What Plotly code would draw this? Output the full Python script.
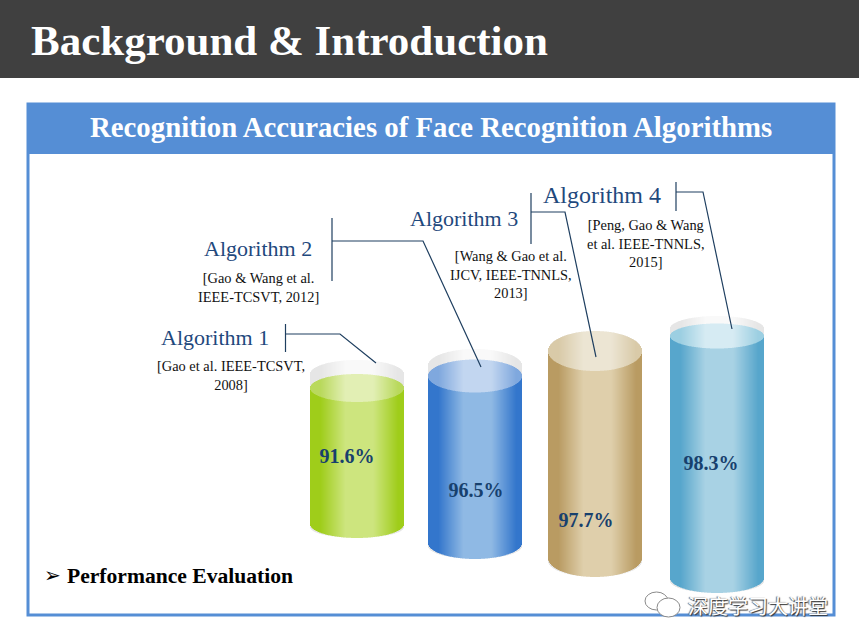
import numpy as np
import plotly.graph_objects as go

W, H = 859, 643

# --- data ---
algorithms = ["Algorithm 1", "Algorithm 2", "Algorithm 3", "Algorithm 4"]
accuracy = [91.6, 96.5, 97.7, 98.3]
citations = [
    "[Gao et al. IEEE-TCSVT,<br>2008]",
    "[Gao &amp; Wang et al.<br>IEEE-TCSVT, 2012]",
    "[Wang &amp; Gao et al.<br>IJCV, IEEE-TNNLS,<br>2013]",
    "[Peng, Gao &amp; Wang<br>et al. IEEE-TNNLS,<br>2015]",
]
# cylinder geometry in chart units
bar_left = [310, 428, 548, 670]
bar_width = [94, 94, 94, 94]
level_center = [388, 376, 351, 336]
level_radius = [14, 16.5, 20, 12.5]
floor_center = [524, 543, 558, 578]
floor_radius = [14, 16, 19, 15]
rim_top = [360, 349, 331, 316]
label_x = [347, 476, 586, 711]
label_y = [458, 492, 522, 465]

# --- styles ---
side_edge = ["#9fcd1a", "#3376cc", "#b99b62", "#57a6cc"]
side_mid = ["#cde57e", "#8fb9e4", "#dfcfab", "#a8d2e4"]
cap_edge = ["#b9d95c", "#7fa8de", "#d9caa8", "#9ccfe2"]
cap_mid = ["#e2efb4", "#c2d6f0", "#ece5d3", "#d6ebf3"]
INK = "#1f3f60"
NAVY = "#17406d"
SERIF = "Liberation Serif"


def rgb(h):
    return np.array([int(h[i:i + 2], 16) for i in (1, 3, 5)], float)


def ramp(t, edge, mid):
    e, m = rgb(edge), rgb(mid)
    f = np.interp(t, [-1, -0.78, -0.25, 0.35, 0.88, 1], [0, 0, 1, 1, 0, 0])
    c = e[None, :] * (1 - f[:, None]) + m[None, :] * f[:, None]
    return [f"rgb({int(r)},{int(g)},{int(b)})" for r, g, b in c]


fig = go.Figure()


def columns(x, base, height, colors):
    fig.add_trace(go.Bar(x=x, y=height, base=base, width=1, marker=dict(color=colors, line=dict(width=0)),
                         hoverinfo="skip", showlegend=False))


for i in range(4):
    x = np.arange(bar_left[i], bar_left[i] + bar_width[i]) + 0.5
    cx = bar_left[i] + bar_width[i] / 2
    t = (x - cx) / (bar_width[i] / 2)
    half = np.sqrt(np.clip(1 - t ** 2, 0, 1))
    ry, rb = level_radius[i], floor_radius[i]
    ly, fy = level_center[i], floor_center[i]
    # glass shell
    rim_c = rim_top[i] + ry
    shell = rim_c - ry * half
    columns(x, shell, fy + 3 + (rb - 3) * half - shell, ramp(t, "#e6e6e6", "#f9f9f9"))
    # liquid body
    columns(x, np.full_like(x, ly), fy + rb * half - ly, ramp(t, side_edge[i], side_mid[i]))
    # liquid surface
    columns(x, ly - ry * half, 2 * ry * half, ramp(t, cap_edge[i], cap_mid[i]))

# value labels
fig.add_trace(go.Scatter(
    x=label_x, y=label_y, mode="text",
    text=[f"<b>{v}%</b>" for v in accuracy],
    textfont=dict(family=SERIF, size=20, color=NAVY), hoverinfo="skip", showlegend=False))

shapes = [
    dict(type="rect", x0=0, x1=W, y0=0, y1=78, fillcolor="#404040", line_width=0, layer="below"),
    dict(type="rect", x0=28, x1=834, y0=104, y1=615, fillcolor="#ffffff",
         line=dict(color="#558ed5", width=3), layer="below"),
    dict(type="rect", x0=27, x1=835, y0=103, y1=154, fillcolor="#558ed5", line_width=0, layer="below"),
]
leaders = [
    [(285.5, 324), (285.5, 352)], [(285.5, 334), (340, 334), (376, 363)],
    [(332, 218), (332, 281)], [(332, 241), (423, 241), (481, 367)],
    [(531, 193), (531, 244)], [(531, 212), (565, 212), (596, 357)],
    [(676, 182), (676, 211)], [(676, 192), (703, 192), (732, 329)],
]
for seg in leaders:
    path = "M " + " L ".join(f"{a} {b}" for a, b in seg)
    shapes.append(dict(type="path", path=path, line=dict(color=INK, width=1.2)))

# watermark bubbles
for (x0, y0, x1, y1, fill) in [(645, 592, 668, 610, "rgba(255,255,255,0.6)"), (657, 598, 680, 617, "#ffffff")]:
    shapes.append(dict(type="circle", x0=x0, y0=y0, x1=x1, y1=y1, fillcolor=fill,
                       line=dict(color="#8a8a8a", width=1)))


def note(x, y, text, size, color, family=SERIF, **kw):
    return dict(x=x, y=y, xref="x", yref="y", text=text, showarrow=False,
                font=dict(family=family, size=size, color=color, **kw), xanchor="center", yanchor="middle", align="center")


ann = [
    note(289, 40, "<b>Background &amp; Introduction</b>", 43, "#ffffff"),
    note(431, 127, "<b>Recognition Accuracies of Face Recognition Algorithms</b>", 28.8, "#ffffff"),
    note(214.5, 337, algorithms[0], 22, "#1f497d"),
    note(257.5, 248, algorithms[1], 22, "#1f497d"),
    note(463.5, 218, algorithms[2], 22, "#1f497d"),
    note(601.5, 195, algorithms[3], 24, "#1f497d"),
    note(231, 375, citations[0], 14.4, "#111111"),
    note(258, 287, citations[1], 14.4, "#111111"),
    note(511, 274, citations[2], 14.4, "#111111"),
    note(646, 243, citations[3], 14.4, "#111111"),
    note(52, 575, "<b>➢</b>", 20, "#000000", family="DejaVu Sans"),
    note(180, 576, "<b>Performance Evaluation</b>", 21.6, "#000000"),
    note(758, 605, "深度学习大讲堂", 20, "#ffffff", family="Noto Sans CJK SC",
         shadow="1px 1px 1px #333, -1px 0 1px #666"),
]

fig.update_layout(
    width=W, height=H, margin=dict(l=0, r=0, t=0, b=0),
    paper_bgcolor="#ffffff", plot_bgcolor="#ffffff", barmode="overlay", showlegend=False,
    xaxis=dict(range=[0, W], visible=False, fixedrange=True),
    yaxis=dict(range=[H, 0], visible=False, fixedrange=True),
    shapes=shapes, annotations=ann,
)
fig.write_html("out.html", config={"displayModeBar": False},
               post_script="document.body.style.margin='0';")
